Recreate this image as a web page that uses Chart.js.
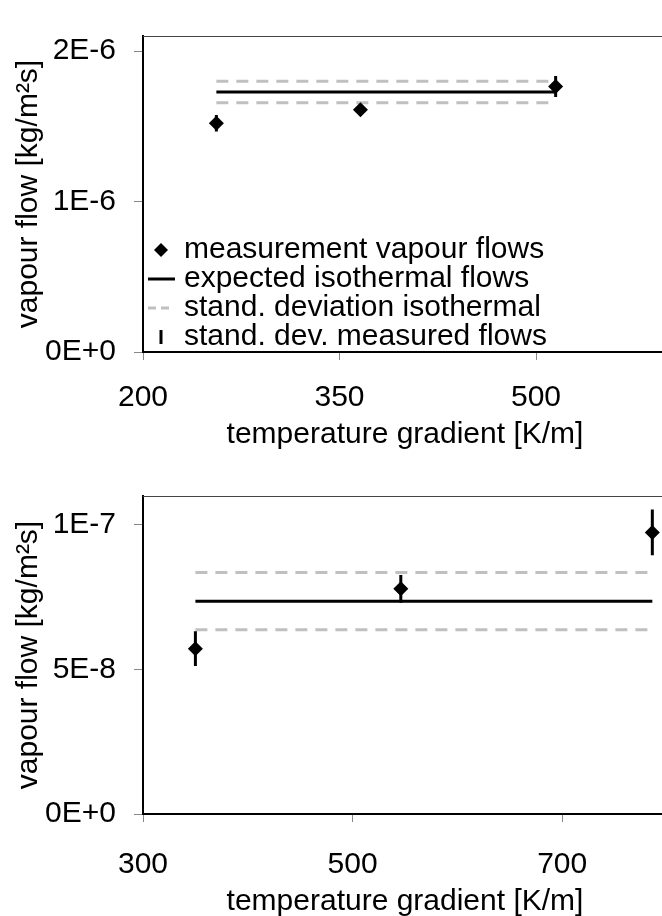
<!DOCTYPE html>
<html>
<head>
<meta charset="utf-8">
<script src="https://cdn.jsdelivr.net/npm/chart.js@4.4.0/dist/chart.umd.min.js"></script>
<style>
  html, body { margin: 0; padding: 0; background: #fff; overflow: hidden; width: 662px; height: 916px; }
  .panel { position: absolute; left: 0; }
  #topPanel { top: 0; }
  #bottomPanel { top: 460px; }
</style>
</head>
<body>
<div class="panel" id="topPanel"><canvas id="chartTop" width="700" height="460"></canvas></div>
<div class="panel" id="bottomPanel"><canvas id="chartBottom" width="700" height="460"></canvas></div>
<script>
// upper panel
var topGradient = [256, 366, 515];
var topFlow = [1.52e-6, 1.61e-6, 1.765e-6];
var topFlowSd = [0.055e-6, 0.03e-6, 0.07e-6];
var topIsoMean = 1.728e-6;
var topIsoSd = 0.072e-6;
var topXTicks = [200, 350, 500];
var topYTicks = [0, 1e-6, 2e-6];
var topYTickLabels = ['0E+0', '1E-6', '2E-6'];

// lower panel
var botGradient = [350, 546, 786];
var botFlow = [5.72e-8, 7.79e-8, 9.74e-8];
var botFlowSd = [0.6e-8, 0.48e-8, 0.79e-8];
var botIsoMean = 7.36e-8;
var botIsoSd = 0.99e-8;
var botXTicks = [300, 500, 700];
var botYTicks = [0, 5e-8, 1e-7];
var botYTickLabels = ['0E+0', '5E-8', '1E-7'];

var legendLabels = ['measurement vapour flows', 'expected isothermal flows',
                    'stand. deviation isothermal', 'stand. dev. measured flows'];

var FONT = { family: '"Liberation Sans", Arial, sans-serif', size: 30 };
var GREY = '#c0c0c0';

function buildDatasets(xs, ys, sds, mean, sd) {
    var x0 = xs[0], x1 = xs[xs.length - 1];
    var bars = [];
    xs.forEach(function (x, i) {
        bars.push({ x: x, y: ys[i] - sds[i] }, { x: x, y: ys[i] + sds[i] }, { x: x, y: null });
    });
    var pts = xs.map(function (x, i) { return { x: x, y: ys[i] }; });
    return [
        { data: pts, showLine: false, pointStyle: 'rectRot', pointRadius: 7.5,
          pointBackgroundColor: '#000', pointBorderColor: '#000', pointBorderWidth: 0, order: 0 },
        { data: bars, showLine: true, spanGaps: false, borderColor: '#000', borderWidth: 3,
          pointRadius: 0, order: 1 },
        { data: [{ x: x0, y: mean }, { x: x1, y: mean }], showLine: true,
          borderColor: '#000', borderWidth: 3, pointRadius: 0, order: 2 },
        { data: [{ x: x0, y: mean + sd }, { x: x1, y: mean + sd }], showLine: true,
          borderColor: GREY, borderWidth: 3, borderDash: [12, 8], pointRadius: 0, order: 3 },
        { data: [{ x: x0, y: mean - sd }, { x: x1, y: mean - sd }], showLine: true,
          borderColor: GREY, borderWidth: 3, borderDash: [12, 8], pointRadius: 0, order: 3 }
    ];
}

function makeOptions(o) {
    return {
        responsive: false,
        animation: false,
        layout: { padding: { top: o.padTop, right: 33, left: 0, bottom: 0 } },
        plugins: { legend: { display: false }, tooltip: { enabled: false } },
        scales: {
            x: {
                type: 'linear', min: o.xMin, max: o.xMax,
                afterBuildTicks: function (s) { s.ticks = o.xTicks.map(function (v) { return { value: v }; }); },
                afterFit: function (s) { s.height = o.xHeight; },
                ticks: { color: '#000', font: FONT, padding: o.xTickPad, maxRotation: 0 },
                grid: { drawOnChartArea: false, tickLength: 8, tickColor: '#888', tickWidth: 1 },
                border: { color: '#000', width: 2 },
                title: { display: true, text: 'temperature gradient [K/m]', color: '#000', font: FONT,
                         padding: { top: 0, bottom: o.xTitlePad } }
            },
            y: {
                type: 'linear', min: 0, max: o.yMax,
                afterBuildTicks: function (s) { s.ticks = o.yTicks.map(function (v) { return { value: v }; }); },
                afterFit: function (s) { s.width = 143; },
                ticks: { color: '#000', font: FONT, padding: 18,
                         callback: function (v, i) { return o.yLabels[i]; } },
                grid: { drawOnChartArea: false, tickLength: 9, tickColor: '#888', tickWidth: 1 },
                border: { color: '#000', width: 2 },
                title: { display: true, text: 'vapour flow [kg/m²s]', color: '#000', font: FONT,
                         padding: { top: 11, bottom: 0 } }
            }
        }
    };
}

// frame line on top of the plot area
var frame = {
    id: 'frame',
    afterDraw: function (c) {
        var a = c.chartArea, ctx = c.ctx;
        ctx.save();
        ctx.strokeStyle = '#444';
        ctx.lineWidth = 1;
        ctx.beginPath();
        ctx.moveTo(a.left, a.top + 0.5);
        ctx.lineTo(a.right, a.top + 0.5);
        ctx.lineTo(a.right, a.bottom);
        ctx.stroke();
        ctx.restore();
    }
};

// legend drawn inside the upper plot
var innerLegend = {
    id: 'innerLegend',
    afterDraw: function (c) {
        var a = c.chartArea, ctx = c.ctx;
        var mx = a.left + 18, tx = a.left + 41, y0 = a.bottom - 102, step = 29;
        ctx.save();
        ctx.font = FONT.size + 'px ' + FONT.family;
        ctx.fillStyle = '#000';
        ctx.textBaseline = 'middle';
        ctx.textAlign = 'left';
        legendLabels.forEach(function (t, i) { ctx.fillText(t, tx, y0 + i * step); });

        var y = y0;
        ctx.beginPath();
        ctx.moveTo(mx, y - 7); ctx.lineTo(mx + 7, y); ctx.lineTo(mx, y + 7); ctx.lineTo(mx - 7, y);
        ctx.closePath();
        ctx.fill();

        y += step;
        ctx.lineWidth = 3;
        ctx.strokeStyle = '#000';
        ctx.beginPath(); ctx.moveTo(a.left + 5, y); ctx.lineTo(a.left + 32, y); ctx.stroke();

        y += step;
        ctx.strokeStyle = GREY;
        ctx.setLineDash([8, 5]);
        ctx.beginPath(); ctx.moveTo(a.left + 5, y); ctx.lineTo(a.left + 27, y); ctx.stroke();

        y += step;
        ctx.setLineDash([]);
        ctx.strokeStyle = '#000';
        ctx.beginPath(); ctx.moveTo(mx, y - 7); ctx.lineTo(mx, y + 7); ctx.stroke();
        ctx.restore();
    }
};

new Chart(document.getElementById('chartTop'), {
    type: 'scatter',
    data: { datasets: buildDatasets(topGradient, topFlow, topFlowSd, topIsoMean, topIsoSd) },
    options: makeOptions({ padTop: 10, xMin: 200, xMax: 600, xTicks: topXTicks, xHeight: 108,
                           xTickPad: 20, xTitlePad: 7, yMax: 2.1e-6, yTicks: topYTicks, yLabels: topYTickLabels }),
    plugins: [frame, innerLegend]
});

new Chart(document.getElementById('chartBottom'), {
    type: 'scatter',
    data: { datasets: buildDatasets(botGradient, botFlow, botFlowSd, botIsoMean, botIsoSd) },
    options: makeOptions({ padTop: 12, xMin: 300, xMax: 800, xTicks: botXTicks, xHeight: 106,
                           xTickPad: 25, xTitlePad: 0, yMax: 1.1e-7, yTicks: botYTicks, yLabels: botYTickLabels }),
    plugins: [frame]
});
</script>
</body>
</html>
